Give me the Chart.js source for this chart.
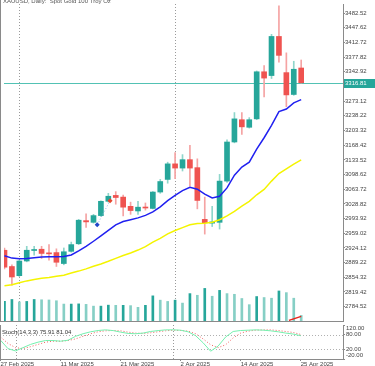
<!DOCTYPE html>
<html>
<head>
<meta charset="utf-8">
<script src="https://cdn.jsdelivr.net/npm/chart.js@4.4.1/dist/chart.umd.min.js"></script>
<style>
    html, body { margin: 0; padding: 0; background: #fff; }
    #wrap { position: relative; width: 375px; height: 366px; overflow: hidden; }
    #main { position: absolute; left: 0; top: 0; }
    #stoch { position: absolute; left: 0; top: 325px; }
</style>
</head>
<body>
<div id="wrap">
    <canvas id="main" width="375" height="325"></canvas>
    <canvas id="stoch" width="375" height="41"></canvas>
</div>
<script>
// XAUUSD daily, 27 Feb - 25 Apr 2025
const dates = [
    "27 Feb 2025", "28 Feb 2025",
    "3 Mar 2025", "4 Mar 2025", "5 Mar 2025", "6 Mar 2025", "7 Mar 2025",
    "10 Mar 2025", "11 Mar 2025", "12 Mar 2025", "13 Mar 2025", "14 Mar 2025",
    "17 Mar 2025", "18 Mar 2025", "19 Mar 2025", "20 Mar 2025", "21 Mar 2025",
    "24 Mar 2025", "25 Mar 2025", "26 Mar 2025", "27 Mar 2025", "28 Mar 2025",
    "31 Mar 2025", "1 Apr 2025", "2 Apr 2025", "3 Apr 2025", "4 Apr 2025",
    "7 Apr 2025", "8 Apr 2025", "9 Apr 2025", "10 Apr 2025", "11 Apr 2025",
    "14 Apr 2025", "15 Apr 2025", "16 Apr 2025", "17 Apr 2025",
    "21 Apr 2025", "22 Apr 2025", "23 Apr 2025", "24 Apr 2025", "25 Apr 2025"
];
const opens  = [2918.6, 2879.9, 2858.1, 2893.0, 2918, 2921, 2912, 2913, 2887, 2916, 2934, 2989, 2985, 3001, 3035, 3049, 3045, 3023, 3012, 3021, 3018, 3057, 3087, 3124, 3114, 3134, 3115, 2992, 2983, 2985, 3083, 3176, 3229, 3211, 3231, 3343, 3334, 3427, 3341, 3289, 3352];
const highs  = [2924, 2884, 2895, 2927.9, 2928, 2928, 2932, 2922, 2924, 2938, 2992, 3005, 3004, 3036, 3054, 3058, 3050, 3033, 3035, 3031, 3058, 3087, 3128, 3151, 3146, 3168, 3136, 3045, 3023, 3099, 3181, 3246, 3246, 3234, 3345, 3358, 3432, 3500, 3388, 3368, 3371];
const lows   = [2874, 2835.7, 2856, 2891, 2907, 2899, 2895, 2880, 2884, 2914, 2932, 2973, 2983, 2999, 3033, 3028, 3000, 3004, 3004, 3014, 3017, 3054, 3078, 3089, 3107, 3071, 3017, 2957, 2975, 2969, 3080, 3174, 3194, 3209, 3229, 3283, 3327, 3366, 3260, 3287, 3316];
const closes = [2878.3, 2855.0, 2893.0, 2918.6, 2920, 2911, 2910, 2890, 2915, 2932, 2990, 2986, 3001, 3035, 3047, 3044, 3021, 3013, 3021, 3019, 3057, 3082, 3124, 3114, 3134, 3114, 3037, 2984, 2986, 3083, 3176, 3231, 3212, 3229, 3343, 3328, 3427, 3382, 3288, 3349, 3316.81];

const maFast = [2905.5, 2899.9, 2898.5, 2899.2, 2900.9, 2902.3, 2903.2, 2903.2, 2903.9, 2907.4, 2917.2, 2927.6, 2940.0, 2952.8, 2966.0, 2979.0, 2987.0, 2991.1, 2995.6, 3001.6, 3009.8, 3021.9, 3036.5, 3048.8, 3060.5, 3068.4, 3063.7, 3052.1, 3042.8, 3047.0, 3066.8, 3097.0, 3116.3, 3128.0, 3159.1, 3186.1, 3215.7, 3248.2, 3254.5, 3269.2, 3276.9];
const maSlow = [2834.1, 2836.4, 2841.1, 2845.7, 2849.2, 2852.0, 2853.9, 2856.7, 2859.2, 2864.3, 2869.0, 2874.3, 2880.6, 2886.0, 2892.3, 2899.2, 2906.2, 2912.0, 2919.0, 2927.2, 2938.1, 2947.0, 2957.4, 2965.6, 2972.5, 2979.0, 2982.3, 2983.0, 2985.3, 2991.1, 3000.4, 3010.9, 3023.7, 3034.9, 3050.5, 3063.3, 3083.0, 3100.9, 3112.1, 3123.3, 3133.5];

const volumes = [200, 220, 195, 200, 220, 217, 215, 207, 173, 173, 175, 170, 152, 152, 162, 160, 160, 157, 140, 160, 257, 213, 200, 213, 183, 280, 263, 333, 253, 313, 280, 273, 230, 167, 250, 240, 233, 307, 290, 233, 57];

const stochK = [57.3, 22.7, 13.3, 26.7, 40, 49.3, 56, 56, 53.3, 57.3, 73.3, 84, 92, 97.3, 100, 97, 90.7, 85.3, 84, 86.7, 93.3, 97, 100, 100, 98.7, 92, 76, 46.7, 12, 33.3, 70.7, 93.3, 97.3, 98.7, 100, 98.7, 96, 92, 86.7, 82.7, 75.91];
const stochD = [70.7, 44, 26.7, 22.7, 30.7, 40, 49.3, 53.3, 53.3, 56, 62.7, 73.3, 84, 92, 96, 97.3, 96, 90.7, 86.7, 85.3, 88, 92, 96, 98.7, 97.3, 94.7, 84, 62.7, 38.7, 26.7, 38.7, 66.7, 86.7, 94.7, 98.7, 100, 100, 97.3, 93.3, 89.3, 81.04];

const priceTicks = [2784.52, 2819.42, 2854.32, 2889.22, 2924.12, 2959.02, 2993.92, 3028.82, 3063.72, 3098.62, 3133.52, 3168.42, 3203.32, 3238.22, 3273.12, 3308.02, 3342.92, 3377.82, 3412.72, 3447.62, 3482.52];
const stochTicks = [120, 80, 20, -20];
const stochLevels = [80, 20];
const timeTicks = [0, 8, 16, 24, 32, 40];
const monthStarts = [2, 23];
const lastPrice = 3316.81;

// trade arrows and a short trend line drawn on the chart
const tradeX = [12.5, 14.23];
const tradePrice = [2979.0, 3036.5];
const trendX = [38.35, 40.0];
const trendPrice = [2751.9, 2761.3];

const UP = "#26a69a", DOWN = "#ef5350";
const UP_WICK = "#8fd6cb", DOWN_WICK = "#f5a3a3";
const AXIS = "#8a8a8a", TEXT = "#444";
const FONT = { family: "Liberation Sans", size: 6 };
const X_MIN = -0.066, X_MAX = 45.637;

const idx = dates.map((d, k) => k);
const isUp = (k) => closes[k] >= opens[k];

const separators = {
    id: "separators",
    beforeDatasetsDraw(chart) {
        const { ctx, chartArea: a, scales: { x } } = chart;
        ctx.save();
        ctx.strokeStyle = "#9a9a9a";
        ctx.lineWidth = 1;
        ctx.setLineDash([1, 2]);
        monthStarts.forEach(k => {
            const px = Math.round(x.getPixelForValue(k)) + 0.5;
            ctx.beginPath();
            ctx.moveTo(px, a.top);
            ctx.lineTo(px, a.bottom);
            ctx.stroke();
        });
        ctx.restore();
    }
};

const mainDecor = {
    id: "mainDecor",
    beforeDatasetsDraw(chart) {
        const { ctx, chartArea: a, scales: { y } } = chart;
        const py = Math.round(y.getPixelForValue(lastPrice));
        ctx.save();
        // bid line sits behind the candles
        ctx.fillStyle = "#52c2b4";
        ctx.fillRect(a.left, py, a.right - a.left, 1);
        ctx.restore();
    },
    afterDraw(chart) {
        const { ctx, chartArea: a, scales: { y } } = chart;
        const py = Math.round(y.getPixelForValue(lastPrice));
        ctx.save();
        // last price tag on the axis
        ctx.fillStyle = UP;
        ctx.fillRect(a.right + 1, py - 4, 31, 9);
        ctx.fillStyle = "#fff";
        ctx.font = "6px 'Liberation Sans'";
        ctx.textBaseline = "middle";
        ctx.fillText(lastPrice.toFixed(2), a.right + 2, py + 0.5);
        // title, cut by the top edge like the original
        ctx.fillStyle = "#555";
        ctx.textBaseline = "alphabetic";
        ctx.fillText("XAUUSD, Daily:  Spot Gold 100 Troy Oz", 3, 2.5);
        // panel frame
        ctx.strokeStyle = AXIS;
        ctx.beginPath();
        ctx.moveTo(0.5, 0);
        ctx.lineTo(0.5, a.bottom);
        ctx.moveTo(0, a.bottom + 0.5);
        ctx.lineTo(a.right, a.bottom + 0.5);
        ctx.stroke();
        ctx.restore();
    }
};

new Chart(document.getElementById("main"), {
    type: "bar",
    data: {
        datasets: [
            {
                type: "line", label: "Trade",
                data: tradeX.map((x, i) => ({ x: x, y: tradePrice[i] })),
                borderColor: "#8fb8e8", borderWidth: 1, borderDash: [1, 2],
                pointStyle: "rectRot", pointRadius: 2.5, pointBorderWidth: 0,
                pointBackgroundColor: ["#2046c8", "#e8452c"], order: 0
            },
            {
                type: "line", label: "Trend",
                data: trendX.map((x, i) => ({ x: x, y: trendPrice[i] })),
                borderColor: "#e8241c", borderWidth: 1.5, pointRadius: 0, order: 0
            },
            {
                type: "line", label: "MA fast",
                data: idx.map(k => ({ x: k, y: maFast[k] })),
                borderColor: "#2020f0", borderWidth: 1.5, pointRadius: 0, order: 1
            },
            {
                type: "line", label: "MA slow",
                data: idx.map(k => ({ x: k, y: maSlow[k] })),
                borderColor: "#f4f400", borderWidth: 1.5, pointRadius: 0, order: 2
            },
            {
                label: "Body",
                data: idx.map(k => ({ x: k, y: [opens[k], closes[k]] })),
                backgroundColor: (c) => isUp(c.dataIndex) ? UP : DOWN,
                barThickness: 5, minBarLength: 1, grouped: false, order: 3
            },
            {
                label: "Wick",
                data: idx.map(k => ({ x: k, y: [lows[k], highs[k]] })),
                backgroundColor: (c) => isUp(c.dataIndex) ? UP_WICK : DOWN_WICK,
                barThickness: 1, grouped: false, order: 4
            },
            {
                label: "Volume", yAxisID: "yv",
                data: idx.map(k => ({ x: k, y: volumes[k] })),
                backgroundColor: (c) => (c.dataIndex > 0 && volumes[c.dataIndex] < volumes[c.dataIndex - 1]) ? "#86cfc5" : UP,
                barThickness: 2, grouped: false, order: 5
            }
        ]
    },
    options: {
        responsive: false,
        animation: false,
        events: [],
        layout: { padding: { left: 0, right: 0, top: 0, bottom: 1 } },
        plugins: { legend: { display: false }, tooltip: { enabled: false } },
        scales: {
            x: { type: "linear", min: X_MIN, max: X_MAX, offset: false, display: false },
            y: {
                position: "right",
                min: 2750.33, max: 3504.17,
                afterBuildTicks: (s) => { s.ticks = priceTicks.map(v => ({ value: v })); },
                ticks: { callback: (v) => Number(v).toFixed(2), font: FONT, color: TEXT, padding: 0, autoSkip: false },
                grid: { drawOnChartArea: false, tickLength: 2, color: AXIS },
                border: { color: AXIS },
                afterFit: (s) => { s.width = 32; s.paddingTop = 0; s.paddingBottom = 0; }
            },
            yv: { display: false, min: 0, max: 3240 }
        }
    },
    plugins: [separators, mainDecor]
});

const stochDecor = {
    id: "stochDecor",
    beforeDatasetsDraw(chart) {
        const { ctx, chartArea: a, scales: { y } } = chart;
        ctx.save();
        ctx.strokeStyle = "#b0b0b0";
        ctx.setLineDash([1, 2]);
        stochLevels.forEach(v => {
            const py = Math.round(y.getPixelForValue(v)) + 0.5;
            ctx.beginPath();
            ctx.moveTo(a.left, py);
            ctx.lineTo(a.right, py);
            ctx.stroke();
        });
        ctx.restore();
    },
    afterDraw(chart) {
        const { ctx, chartArea: a, scales: { y } } = chart;
        ctx.save();
        ctx.font = "6px 'Liberation Sans'";
        ctx.textBaseline = "middle";
        ctx.fillStyle = TEXT;
        // level labels, kept inside the window like the terminal does
        stochTicks.forEach(v => {
            let py = y.getPixelForValue(v);
            py = Math.min(Math.max(py, a.top + 3.5), a.bottom - 3.5);
            ctx.fillText(v.toFixed(2), a.right + 3, py);
        });
        const n = stochK.length - 1;
        ctx.fillStyle = "#333";
        ctx.fillText(`Stoch(14,3,3) ${stochK[n].toFixed(2)} ${stochD[n].toFixed(2)}`, 2, a.top + 7);
        ctx.strokeStyle = AXIS;
        ctx.beginPath();
        ctx.moveTo(0.5, a.top);
        ctx.lineTo(0.5, a.bottom);
        ctx.stroke();
        ctx.restore();
    }
};

new Chart(document.getElementById("stoch"), {
    type: "line",
    data: {
        datasets: [
            {
                label: "%K",
                data: idx.map(k => ({ x: k, y: stochK[k] })),
                borderColor: "#74f0ae", borderWidth: 1, pointRadius: 0
            },
            {
                label: "%D",
                data: idx.map(k => ({ x: k, y: stochD[k] })),
                borderColor: "#f06060", borderWidth: 1, borderDash: [1, 2], pointRadius: 0
            }
        ]
    },
    options: {
        responsive: false,
        animation: false,
        events: [],
        layout: { padding: 0 },
        plugins: { legend: { display: false }, tooltip: { enabled: false } },
        scales: {
            x: {
                type: "linear", min: X_MIN, max: X_MAX, offset: false,
                afterBuildTicks: (s) => { s.ticks = timeTicks.map(v => ({ value: v })); },
                ticks: { callback: (v) => dates[v], align: "start", font: FONT, color: TEXT, padding: 0, maxRotation: 0, autoSkip: false },
                grid: { drawOnChartArea: false, tickLength: 2, color: AXIS },
                border: { color: AXIS },
                afterFit: (s) => { s.height = 7; s.paddingLeft = 0; s.paddingRight = 0; }
            },
            y: {
                position: "right", min: -20, max: 120,
                afterBuildTicks: (s) => { s.ticks = stochTicks.map(v => ({ value: v })); },
                ticks: { display: false },
                grid: { drawOnChartArea: false, tickLength: 2, color: AXIS },
                border: { color: AXIS },
                afterFit: (s) => { s.width = 32; s.paddingTop = 0; s.paddingBottom = 0; }
            }
        }
    },
    plugins: [separators, stochDecor]
});
</script>
</body>
</html>
